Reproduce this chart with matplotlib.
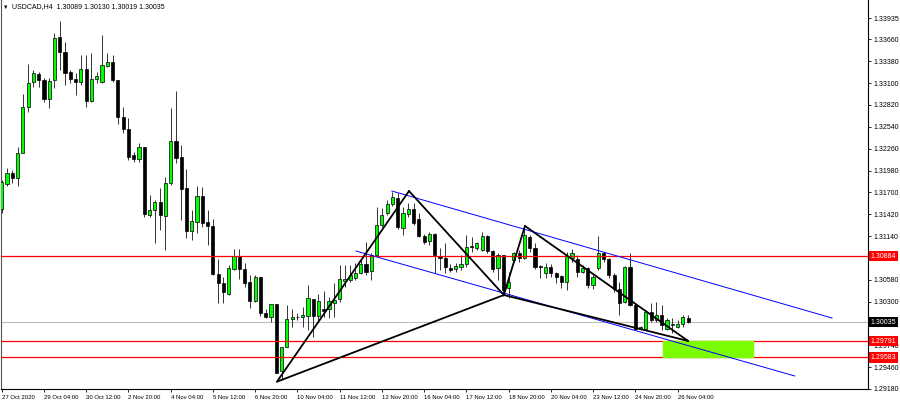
#/usr/bin/env python3
import numpy as np
import matplotlib.pyplot as plt
from matplotlib.patches import Rectangle

# USDCAD H4 candles, 27 Oct 2020 20:00 -> 26 Nov 2020 12:00
opens = [1.31483, 1.31803, 1.31952, 1.31888, 1.32208, 1.32798, 1.33111, 1.33214, 1.33140, 1.32897,
         1.33140, 1.33696, 1.33496, 1.33239, 1.33153, 1.33119, 1.33278, 1.32871, 1.33149, 1.33119,
         1.33324, 1.33375, 1.33140, 1.32670, 1.32508, 1.32179, 1.32124, 1.32285, 1.31410, 1.31474,
         1.31573, 1.31401, 1.31816, 1.32358, 1.32149, 1.31752, 1.31205, 1.31324, 1.31653, 1.31324,
         1.31269, 1.30657, 1.30534, 1.30397, 1.30717, 1.30884, 1.30714, 1.30547, 1.30311, 1.30619,
         1.30157, 1.30098, 1.30269, 1.29414, 1.29721, 1.30076, 1.30098, 1.30106, 1.30119, 1.30333,
         1.30119, 1.30201, 1.30201, 1.30285, 1.30329, 1.30564, 1.30576, 1.30598, 1.30662, 1.30782,
         1.30696, 1.30897, 1.31282, 1.31432, 1.31551, 1.31624, 1.31239, 1.31423, 1.31483, 1.31355,
         1.31141, 1.31080, 1.31166, 1.30875, 1.30862, 1.30734, 1.30714, 1.30739, 1.30778, 1.31012,
         1.30983, 1.30961, 1.31141, 1.30952, 1.30726, 1.30897, 1.30470, 1.30833, 1.30926, 1.30855,
         1.31132, 1.30983, 1.30756, 1.30670, 1.30739, 1.30662, 1.30628, 1.30555, 1.30855, 1.30842,
         1.30683, 1.30726, 1.30512, 1.30726, 1.30919, 1.30842, 1.30641, 1.30457, 1.30290, 1.30747,
         1.30256, 1.29952, 1.29944, 1.30170, 1.30064, 1.30128, 1.29948, 1.30000, 1.29970, 1.30012,
         1.30089]
highs = [1.31858, 1.32008, 1.31987, 1.32285, 1.32961, 1.33342, 1.33269, 1.33247, 1.33166, 1.33162,
         1.33747, 1.33897, 1.33624, 1.33269, 1.33226, 1.33461, 1.33461, 1.33483, 1.33247, 1.33717,
         1.33490, 1.33461, 1.33140, 1.32798, 1.32649, 1.32221, 1.32337, 1.32285, 1.31666, 1.31602,
         1.31752, 1.31901, 1.32781, 1.32999, 1.32307, 1.31996, 1.31474, 1.31782, 1.31773, 1.31474,
         1.31355, 1.30846, 1.30619, 1.30769, 1.30970, 1.30970, 1.30791, 1.30641, 1.30641, 1.30619,
         1.30201, 1.30269, 1.30269, 1.29721, 1.30256, 1.30201, 1.30157, 1.30234, 1.30512, 1.30333,
         1.30397, 1.30439, 1.30362, 1.30534, 1.30769, 1.30769, 1.30769, 1.30791, 1.30833, 1.31067,
         1.30919, 1.31516, 1.31496, 1.31602, 1.31708, 1.31692, 1.31516, 1.31560, 1.31560, 1.31432,
         1.31166, 1.31196, 1.31175, 1.30983, 1.31047, 1.30782, 1.30791, 1.30897, 1.31153, 1.31132,
         1.31067, 1.31196, 1.31153, 1.30961, 1.30919, 1.30897, 1.30683, 1.30939, 1.30961, 1.31260,
         1.31153, 1.31055, 1.30769, 1.30791, 1.30782, 1.30683, 1.30641, 1.30939, 1.30970, 1.30897,
         1.30769, 1.30747, 1.30641, 1.31141, 1.30939, 1.30855, 1.30662, 1.30555, 1.30756, 1.30919,
         1.30278, 1.29987, 1.30192, 1.30278, 1.30298, 1.30256, 1.30089, 1.30085, 1.30064, 1.30124,
         1.30130]
lows = [1.31439, 1.31785, 1.31824, 1.31785, 1.32201, 1.32734, 1.33055, 1.33055, 1.32862, 1.32778,
        1.33034, 1.33269, 1.33076, 1.33098, 1.32948, 1.33076, 1.32798, 1.32862, 1.33098, 1.33108,
        1.33311, 1.33119, 1.32576, 1.32457, 1.32115, 1.32093, 1.32093, 1.31384, 1.31388, 1.31047,
        1.31217, 1.30961, 1.31794, 1.32072, 1.31346, 1.31111, 1.31089, 1.31183, 1.31260, 1.31025,
        1.30641, 1.30285, 1.30278, 1.30384, 1.30705, 1.30585, 1.30490, 1.30214, 1.30298, 1.30115,
        1.30085, 1.30042, 1.29380, 1.29294, 1.29714, 1.29978, 1.30064, 1.29978, 1.29935, 1.29850,
        1.30055, 1.30106, 1.30085, 1.30106, 1.30298, 1.30490, 1.30555, 1.30576, 1.30653, 1.30641,
        1.30576, 1.30884, 1.31252, 1.31410, 1.31529, 1.31230, 1.31153, 1.31388, 1.31282, 1.31132,
        1.31038, 1.31025, 1.30662, 1.30705, 1.30662, 1.30675, 1.30683, 1.30705, 1.30747, 1.30939,
        1.30961, 1.30952, 1.30926, 1.30683, 1.30576, 1.30371, 1.30342, 1.30811, 1.30811, 1.30842,
        1.30939, 1.30714, 1.30598, 1.30598, 1.30619, 1.30534, 1.30470, 1.30448, 1.30811, 1.30619,
        1.30662, 1.30470, 1.30457, 1.30705, 1.30807, 1.30598, 1.30426, 1.30128, 1.30278, 1.30243,
        1.29935, 1.29935, 1.29935, 1.30038, 1.30038, 1.29935, 1.29935, 1.29893, 1.29961, 1.29974,
        1.30019]
closes = [1.31837, 1.31944, 1.31880, 1.32208, 1.32798, 1.33106, 1.33226, 1.33140, 1.32897, 1.33128,
          1.33683, 1.33496, 1.33226, 1.33153, 1.33119, 1.33278, 1.32871, 1.33153, 1.33196, 1.33333,
          1.33375, 1.33140, 1.32670, 1.32508, 1.32157, 1.32124, 1.32285, 1.31423, 1.31474, 1.31580,
          1.31410, 1.31816, 1.32358, 1.32144, 1.31747, 1.31205, 1.31333, 1.31653, 1.31303, 1.31269,
          1.30657, 1.30538, 1.30426, 1.30726, 1.30884, 1.30714, 1.30542, 1.30311, 1.30619, 1.30157,
          1.30106, 1.30269, 1.29388, 1.29721, 1.30073, 1.30098, 1.30106, 1.30128, 1.30342, 1.30119,
          1.30311, 1.30183, 1.30311, 1.30320, 1.30585, 1.30585, 1.30641, 1.30670, 1.30782, 1.30683,
          1.30897, 1.31282, 1.31410, 1.31551, 1.31644, 1.31260, 1.31432, 1.31483, 1.31303, 1.31141,
          1.31067, 1.31162, 1.30897, 1.30862, 1.30747, 1.30705, 1.30756, 1.30778, 1.31003, 1.30996,
          1.31055, 1.31141, 1.30952, 1.30714, 1.30897, 1.30448, 1.30555, 1.30919, 1.30855, 1.31153,
          1.30983, 1.30747, 1.30739, 1.30739, 1.30662, 1.30611, 1.30555, 1.30884, 1.30919, 1.30683,
          1.30726, 1.30512, 1.30611, 1.30919, 1.30842, 1.30641, 1.30457, 1.30285, 1.30747, 1.30256,
          1.29944, 1.29970, 1.30170, 1.30064, 1.30128, 1.30000, 1.30064, 1.30012, 1.30012, 1.30102,
          1.30035]

# one date label every 8 bars
date_labels = ["27 Oct 2020", "29 Oct 04:00", "30 Oct 12:00", "2 Nov 20:00", "4 Nov 04:00",
               "5 Nov 12:00", "6 Nov 20:00", "10 Nov 04:00", "11 Nov 12:00", "12 Nov 20:00",
               "16 Nov 04:00", "17 Nov 12:00", "18 Nov 20:00", "20 Nov 04:00", "23 Nov 12:00",
               "24 Nov 20:00", "26 Nov 04:00"]
price_ticks = [1.29180, 1.29460, 1.29740, 1.30300, 1.30580, 1.31140, 1.31420, 1.31700,
               1.31980, 1.32260, 1.32540, 1.32820, 1.33100, 1.33380, 1.33660, 1.33935]
price_tick_labels = ["%.5f" % p for p in price_ticks]

# horizontal levels and the target zone
red_levels = [1.30884, 1.29791, 1.29583]
last_price = 1.30035
zone_bars = [125.2, 142.2]
zone_prices = [1.29583, 1.29791]

# XABCD pattern points (bar index, price)
pattern_bars = [52.14, 77.14, 95.1, 99.1, 130.0]
pattern_prices = [1.29273, 1.31717, 1.30384, 1.31269, 1.29795]
# descending channel lines (bar index, price)
channel_upper_bars = [73.9, 157.25]
channel_upper_prices = [1.31717, 1.30089]
channel_lower_bars = [67.1, 150.2]
channel_lower_prices = [1.30948, 1.29346]


def main():
    plt.rcParams['font.family'] = ['Liberation Sans', 'DejaVu Sans']
    fig = plt.figure(figsize=(9, 4.04), dpi=100)
    ax = fig.add_axes([1 / 900, 15 / 404, 867 / 900, 389 / 404])

    o = np.array(opens)
    h = np.array(highs)
    l = np.array(lows)
    c = np.array(closes)
    x = np.arange(len(o))
    up = c >= o

    # wicks then bodies
    ax.vlines(x, l, h, color='#333333', lw=0.7, zorder=2)
    ax.bar(x[up], c[up] - o[up], bottom=o[up], width=0.6, color='#00ff00',
           edgecolor='black', lw=0.5, zorder=3)
    ax.bar(x[~up], o[~up] - c[~up], bottom=c[~up], width=0.6, color='black',
           edgecolor='black', lw=0.5, zorder=3)

    # levels
    for lvl in red_levels:
        ax.axhline(lvl, color='#ff0000', lw=0.9, zorder=4)
    ax.axhline(last_price, color='#c0c0c0', lw=0.8, zorder=1)
    ax.add_patch(Rectangle((zone_bars[0], zone_prices[0]), zone_bars[1] - zone_bars[0],
                           zone_prices[1] - zone_prices[0], color='#7cfc00', zorder=5))

    # channel
    ax.plot(channel_upper_bars, channel_upper_prices, color='#0000ff', lw=0.7, zorder=6)
    ax.plot(channel_lower_bars, channel_lower_prices, color='#0000ff', lw=0.7, zorder=6)

    # XABCD
    segments = [(0, 1), (1, 2), (2, 3), (3, 4), (0, 2), (2, 4)]
    for a, b in segments:
        ax.plot([pattern_bars[a], pattern_bars[b]], [pattern_prices[a], pattern_prices[b]],
                color='black', lw=1.3, zorder=7, solid_capstyle='round')

    ax.set_xlim(-0.13, 164.07)
    ax.set_ylim(1.29179, 1.34166)

    ax.yaxis.tick_right()
    ax.set_yticks(price_ticks)
    ax.set_yticklabels(price_tick_labels)
    ax.set_xticks(np.arange(len(date_labels)) * 8)
    ax.set_xticklabels(date_labels, ha='left')
    ax.tick_params(axis='both', length=2.5, width=0.6, pad=1.5, colors='black')
    ax.tick_params(axis='y', labelsize=5)
    ax.tick_params(axis='x', labelsize=4.3)
    ax.spines['top'].set_visible(False)
    ax.spines['left'].set_color('#555555')
    for s in ['left', 'right', 'bottom']:
        ax.spines[s].set_linewidth(0.8)

    # price boxes on the right scale
    tr = ax.get_yaxis_transform()
    for lvl in red_levels:
        ax.text(1.003, lvl, "%.5f" % lvl, transform=tr, ha='left', va='center', fontsize=5,
                color='white', clip_on=False, zorder=10,
                bbox=dict(boxstyle='square,pad=0.25', fc='#ff0000', ec='none'))
    ax.text(1.003, last_price, "%.5f" % last_price, transform=tr, ha='left', va='center',
            fontsize=5, color='white', clip_on=False, zorder=10,
            bbox=dict(boxstyle='square,pad=0.25', fc='black', ec='none'))

    # header
    fig.text(3 / 900, 1 - 7 / 404, "\u25bc", fontsize=4, va='center', ha='left')
    fig.text(12 / 900, 1 - 7 / 404,
             "USDCAD,H4  %.5f %.5f %.5f %.5f" % (opens[-1], highs[-1], lows[-1], closes[-1]),
             fontsize=5, va='center', ha='left')

    plt.savefig("out.png", dpi=100)


if __name__ == "__main__":
    main()
